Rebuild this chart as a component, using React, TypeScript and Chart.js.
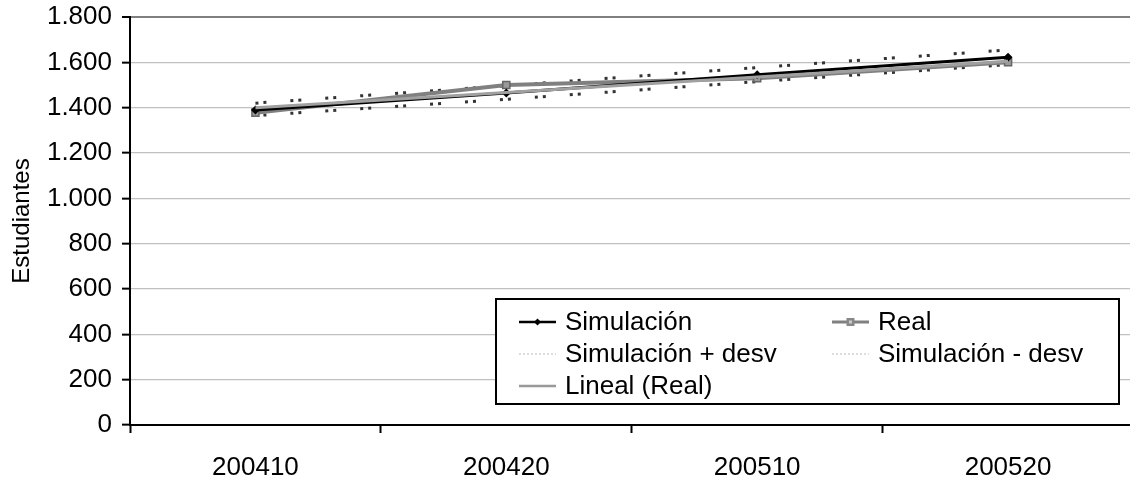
import React, { useEffect, useRef } from "react";
import { Chart, registerables } from "chart.js";

Chart.register(...registerables);

const categories = ["200410", "200420", "200510", "200520"];
const simulacion = [1390, 1465, 1545, 1622];
const real = [1378, 1500, 1530, 1600];
const simMasDesv = [1420, 1497, 1577, 1655];
const simMenosDesv = [1365, 1437, 1515, 1590];
const linealReal = [1400, 1467, 1535, 1605];
const yTicks = [0, 200, 400, 600, 800, 1000, 1200, 1400, 1600, 1800];

const FONT = "'Liberation Sans', Arial, sans-serif";
const DEV_DASH = [3, 5, 3, 24];

function fmt(v: number): string {
  const s = String(Math.round(v));
  return s.replace(/\B(?=(\d{3})+(?!\d))/g, ".");
}

const legendPlugin = {
  id: "boxLegend",
  afterDraw(chart: any) {
    const ctx = chart.ctx as CanvasRenderingContext2D;
    ctx.save();
    const bx = 496, by = 299, bw = 623, bh = 105;
    ctx.fillStyle = "#fff";
    ctx.fillRect(bx, by, bw, bh);
    ctx.strokeStyle = "#000";
    ctx.lineWidth = 2;
    ctx.strokeRect(bx, by, bw, bh);
    ctx.font = `26px ${FONT}`;
    ctx.textBaseline = "middle";
    ctx.textAlign = "left";
    const items = [
      { label: "Simulación", x: 519, y: 322, color: "#000", w: 2.5, dash: [] as number[], marker: "diamond" },
      { label: "Real", x: 832, y: 322, color: "#808080", w: 3, dash: [] as number[], marker: "square" },
      { label: "Simulación + desv", x: 519, y: 354, color: "#bbb", w: 1, dash: [2, 2], marker: "" },
      { label: "Simulación - desv", x: 832, y: 354, color: "#bbb", w: 1, dash: [2, 2], marker: "" },
      { label: "Lineal (Real)", x: 519, y: 386, color: "#999", w: 2.5, dash: [] as number[], marker: "" },
    ];
    for (const it of items) {
      ctx.strokeStyle = it.color;
      ctx.lineWidth = it.w;
      ctx.setLineDash(it.dash);
      ctx.beginPath();
      ctx.moveTo(it.x, it.y);
      ctx.lineTo(it.x + 37, it.y);
      ctx.stroke();
      ctx.setLineDash([]);
      const cx = it.x + 18.5;
      if (it.marker === "diamond") {
        ctx.fillStyle = "#000";
        ctx.beginPath();
        ctx.moveTo(cx, it.y - 3.5);
        ctx.lineTo(cx + 3.5, it.y);
        ctx.lineTo(cx, it.y + 3.5);
        ctx.lineTo(cx - 3.5, it.y);
        ctx.closePath();
        ctx.fill();
      } else if (it.marker === "square") {
        ctx.fillStyle = "#888";
        ctx.fillRect(cx - 4, it.y - 4, 8, 8);
        ctx.fillStyle = "#ccc";
        ctx.fillRect(cx - 1.5, it.y - 1.5, 3, 3);
      }
      ctx.fillStyle = "#000";
      ctx.fillText(it.label, it.x + 46, it.y + 1);
    }
    ctx.restore();
  },
};

export default function App() {
  const ref = useRef<HTMLCanvasElement | null>(null);
  useEffect(() => {
    if (!ref.current) return;
    const chart = new Chart(ref.current, {
      type: "line",
      data: {
        labels: categories,
        datasets: [
          {
            label: "Simulación",
            data: simulacion,
            borderColor: "#000",
            backgroundColor: "#000",
            borderWidth: 3,
            pointStyle: "rectRot",
            pointRadius: 4.5,
            pointBorderWidth: 0,
            tension: 0,
            order: 1,
          },
          {
            label: "Real",
            data: real,
            borderColor: "#808080",
            backgroundColor: "#9a9a9a",
            borderWidth: 4,
            pointStyle: "rect",
            pointRadius: 5,
            pointBorderColor: "#666",
            pointBorderWidth: 1.5,
            tension: 0,
            order: 2,
          },
          {
            label: "Simulación + desv",
            data: simMasDesv,
            borderColor: "#333",
            borderWidth: 3,
            borderDash: DEV_DASH,
            pointRadius: 0,
            tension: 0,
            order: 3,
          },
          {
            label: "Simulación - desv",
            data: simMenosDesv,
            borderColor: "#333",
            borderWidth: 3,
            borderDash: DEV_DASH,
            pointRadius: 0,
            tension: 0,
            order: 4,
          },
          {
            label: "Lineal (Real)",
            data: linealReal,
            borderColor: "#a0a0a0",
            borderWidth: 3,
            pointRadius: 0,
            tension: 0,
            order: 0,
          },
        ],
      },
      options: {
        responsive: false,
        animation: false,
        devicePixelRatio: 1,
        layout: { padding: { top: 17, right: 0, left: 0, bottom: 0 } },
        plugins: {
          legend: { display: false },
          tooltip: { enabled: false },
          title: { display: false },
        },
        scales: {
          x: {
            type: "category",
            offset: true,
            grid: {
              offset: true,
              drawOnChartArea: false,
              drawTicks: true,
              tickLength: 8,
              tickColor: "#000",
              tickWidth: 2,
            },
            border: { color: "#000", width: 2 },
            ticks: {
              color: "#000",
              font: { family: FONT, size: 26 },
              padding: 19,
              maxRotation: 0,
            },
            afterFit: (s: any) => {
              s.height = 56;
              s.paddingLeft = 0;
              s.paddingRight = 0;
            },
          },
          y: {
            min: 0,
            max: 1800,
            afterBuildTicks: (s: any) => {
              s.ticks = yTicks.map((v) => ({ value: v }));
            },
            grid: {
              color: (c: any) => (c.tick && c.tick.value === 1800 ? "#808080" : "#c0c0c0"),
              lineWidth: (c: any) => (c.tick && c.tick.value === 1800 ? 2 : 1.3),
              tickLength: 8,
              tickColor: "#000",
              tickWidth: 2,
            },
            border: { color: "#000", width: 2 },
            ticks: {
              color: "#000",
              font: { family: FONT, size: 26 },
              padding: 10,
              callback: (v: any) => fmt(Number(v)),
            },
            title: {
              display: true,
              text: "Estudiantes",
              color: "#000",
              font: { family: FONT, size: 24 },
              padding: { top: 8, bottom: 0 },
            },
            afterFit: (s: any) => {
              s.width = 130;
              s.paddingTop = 0;
              s.paddingBottom = 0;
            },
          },
        },
      },
      plugins: [legendPlugin],
    });
    return () => chart.destroy();
  }, []);
  return (
    <div style={{ position: "fixed", left: 0, top: 0, width: 1130, height: 481, overflow: "hidden", background: "#fff" }}>
      <canvas ref={ref} width={1140} height={481} style={{ display: "block" }} />
    </div>
  );
}
